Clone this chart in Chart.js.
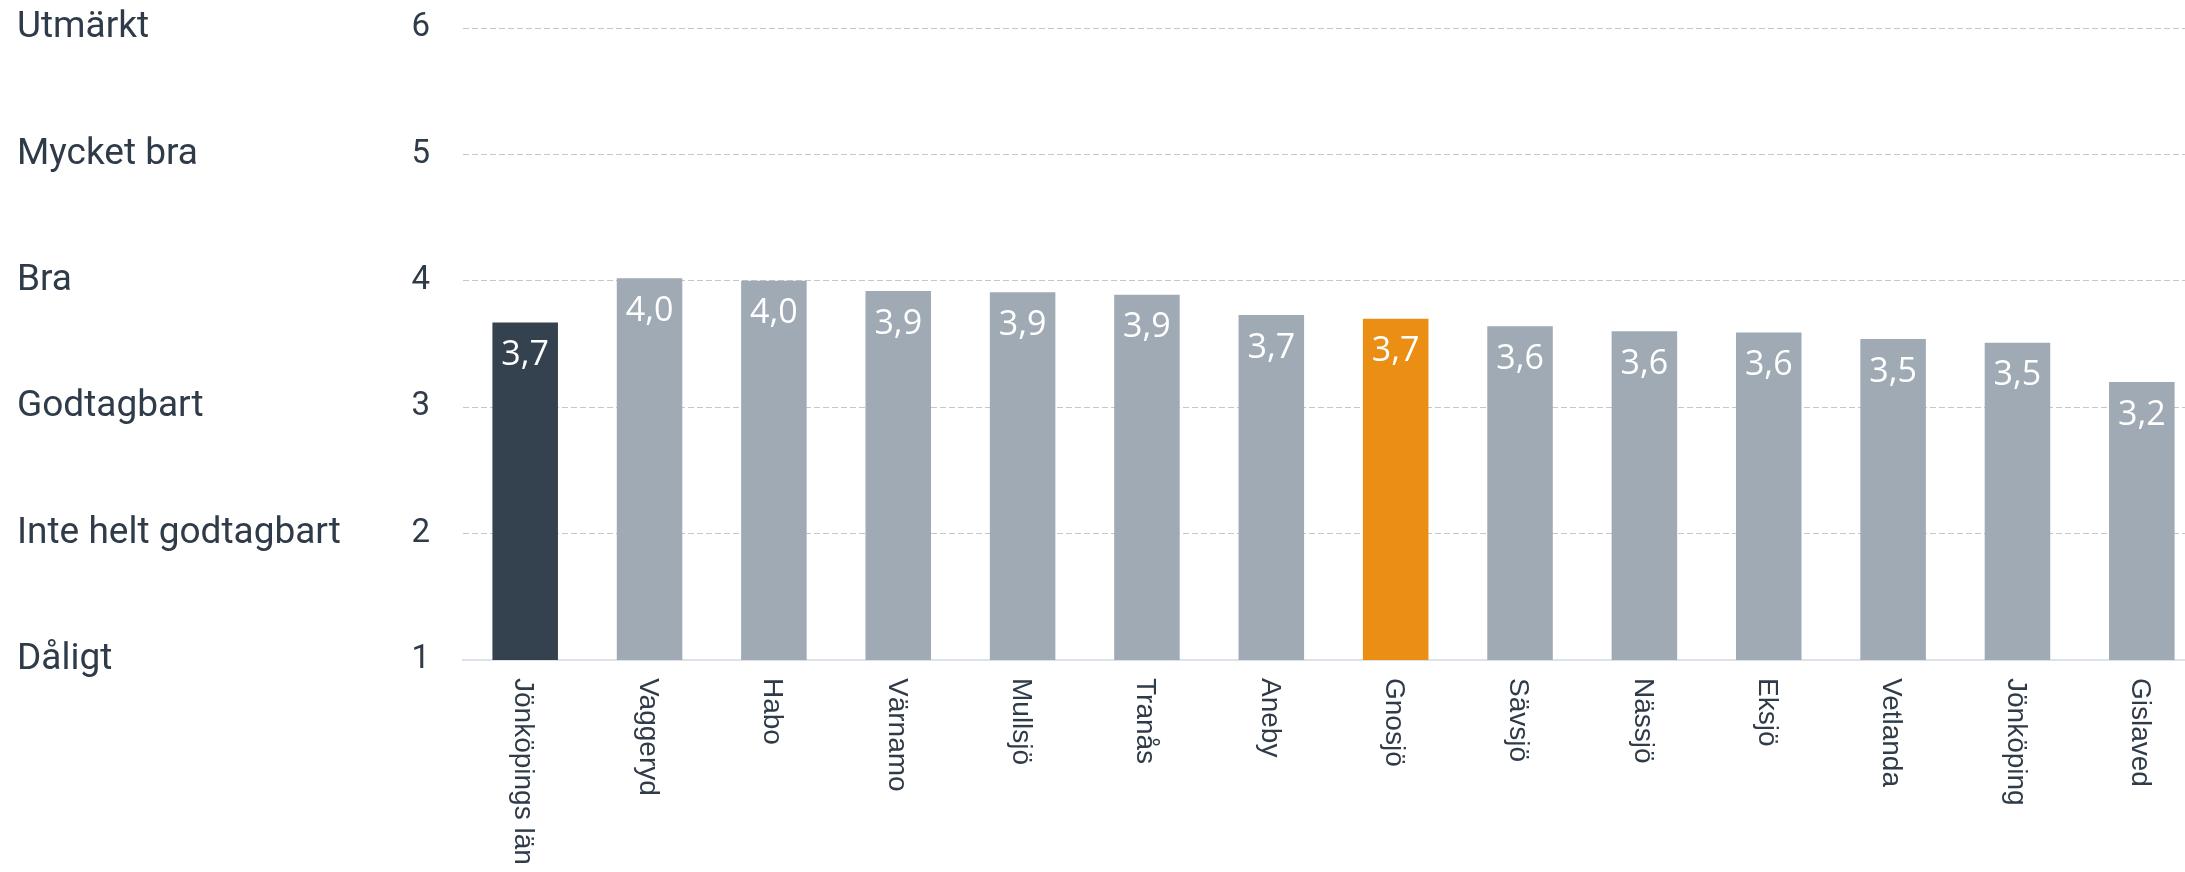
<!DOCTYPE html>
<html>
<head>
<meta charset="utf-8">
<script src="https://cdn.jsdelivr.net/npm/chart.js@4/dist/chart.umd.min.js"></script>
<style>
  html, body { margin: 0; padding: 0; overflow: hidden; background: #ffffff; }
  #wrap { position: relative; width: 2204px; height: 872px; }
</style>
</head>
<body>
<div id="wrap"><canvas id="c"></canvas></div>
<script>
const categories = ["Jönköpings län", "Vaggeryd", "Habo", "Värnamo", "Mullsjö", "Tranås", "Aneby", "Gnosjö", "Sävsjö", "Nässjö", "Eksjö", "Vetlanda", "Jönköping", "Gislaved"];
const values = [3.67, 4.02, 4.00, 3.92, 3.91, 3.89, 3.73, 3.70, 3.64, 3.60, 3.59, 3.54, 3.51, 3.20];
const barColors = ["#34414e", "#a0aab5", "#a0aab5", "#a0aab5", "#a0aab5", "#a0aab5", "#a0aab5", "#ea8f13", "#a0aab5", "#a0aab5", "#a0aab5", "#a0aab5", "#a0aab5", "#a0aab5"];
const yTickValues = [1, 2, 3, 4, 5, 6];
const yTickTexts = ["Dåligt", "Inte helt godtagbart", "Godtagbart", "Bra", "Mycket bra", "Utmärkt"];

const textColor = "#2f3b48";

const valueLabels = {
  id: "valueLabels",
  afterDatasetsDraw(chart) {
    const ctx = chart.ctx;
    const meta = chart.getDatasetMeta(0);
    ctx.save();
    ctx.fillStyle = "#ffffff";
    ctx.font = "34px 'Open Sans'";
    ctx.textAlign = "center";
    ctx.textBaseline = "middle";
    meta.data.forEach((bar, i) => {
      const txt = values[i].toFixed(1).replace(".", ",");
      ctx.fillText(txt, bar.x, bar.y + 33);
    });
    ctx.restore();
  }
};

const xLabels = {
  id: "xLabels",
  afterDraw(chart) {
    const ctx = chart.ctx;
    const xs = chart.scales.x;
    ctx.save();
    ctx.fillStyle = textColor;
    ctx.font = "28px 'Liberation Sans'";
    ctx.textAlign = "left";
    ctx.textBaseline = "middle";
    categories.forEach((c, i) => {
      const x = xs.getPixelForValue(i);
      ctx.save();
      ctx.translate(x - 2, xs.top + 18);
      ctx.rotate(Math.PI / 2);
      ctx.fillText(c, 0, 0);
      ctx.restore();
    });
    ctx.restore();
  }
};

function noVPad(scale, w) {
  scale.width = w;
  scale.paddingTop = 0;
  scale.paddingBottom = 0;
}

new Chart(document.getElementById("c"), {
  type: "bar",
  data: {
    labels: categories,
    datasets: [{
      data: values,
      backgroundColor: barColors,
      borderWidth: 0,
      categoryPercentage: 1.0,
      barPercentage: 0.527
    }]
  },
  options: {
    responsive: true,
    maintainAspectRatio: false,
    animation: false,
    events: [],
    layout: { padding: { top: 28, left: 17, right: 0, bottom: 0 } },
    plugins: { legend: { display: false }, tooltip: { enabled: false } },
    scales: {
      x: {
        offset: true,
        grid: { display: false },
        border: { display: true, color: "#dbe2e9", width: 2 },
        ticks: {
          color: "rgba(0,0,0,0)",
          font: { family: "'Liberation Sans'", size: 28 },
          minRotation: 90,
          maxRotation: 90,
          autoSkip: false
        },
        afterFit(scale) { scale.height = 212; scale.paddingLeft = 0; scale.paddingRight = 0; }
      },
      y: {
        position: "left",
        weight: 0,
        min: 1,
        max: 6,
        afterBuildTicks(scale) { scale.ticks = yTickValues.map(v => ({ value: v })); },
        grid: {
          drawTicks: false,
          color: (c) => (c.tick && c.tick.value === 1) ? "rgba(0,0,0,0)" : "#c6c6c6",
          lineWidth: 1
        },
        border: { display: false, dash: [6, 3] },
        ticks: {
          padding: 33,
          color: textColor,
          font: { family: "Roboto", size: 33 },
          callback: (v) => String(v)
        },
        afterFit(scale) { noVPad(scale, 70); }
      },
      yText: {
        position: "left",
        weight: 1,
        min: 1,
        max: 6,
        afterBuildTicks(scale) { scale.ticks = yTickValues.map(v => ({ value: v })); },
        grid: { display: false, drawTicks: false },
        border: { display: false },
        ticks: {
          crossAlign: "far",
          padding: 0,
          color: textColor,
          font: { family: "Roboto", size: 37 },
          callback: (v) => yTickTexts[yTickValues.indexOf(v)]
        },
        afterFit(scale) { noVPad(scale, 376); }
      }
    }
  },
  plugins: [valueLabels, xLabels]
});
</script>
</body>
</html>
